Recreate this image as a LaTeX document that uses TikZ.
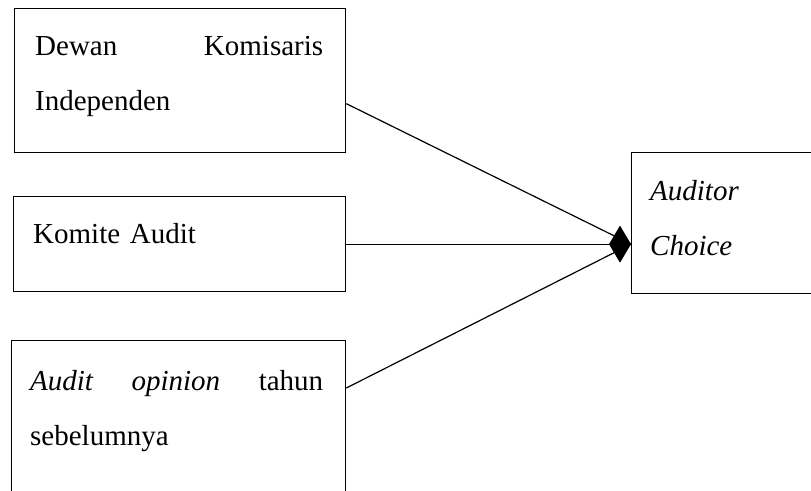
\documentclass[tikz,border=0pt]{standalone}
\usepackage{fontspec}
\setmainfont{Liberation Serif}
\usetikzlibrary{arrows.meta, positioning}
\hyphenpenalty=10000
\tolerance=10000

\tikzset{
  kotak/.style={draw, line width=1.3pt, rectangle, inner sep=0pt, anchor=north west},
  isi/.style={anchor=base west, inner sep=0pt, align=justify,
    font=\fontsize{29}{55}\selectfont},
  panah/.style={line width=1.2pt},
}

\begin{document}
\begin{tikzpicture}[x=1pt, y=-1pt]
  \useasboundingbox (0,0) rectangle (811,490);

  % kotak variabel independen
  \node[kotak, minimum width=331pt, minimum height=144pt] (dewan) at (14,8) {};
  \node[kotak, minimum width=332pt, minimum height=95pt] (komite) at (13,196) {};
  \node[kotak, minimum width=334pt, minimum height=170pt] (audit) at (11,340) {};
  % kotak variabel dependen
  \node[kotak, minimum width=200pt, minimum height=141pt] (choice) at (631,152) {};

  % teks
  \node[isi, text width=288pt] (dewantxt) at (35,55) {Dewan Komisaris Independen};
  \node[isi, text width=290pt, align=left] (komitetxt) at (33,243) {Komite Audit};
  \node[isi, text width=293pt] (audittxt) at (30,390) {\textit{Audit opinion} tahun sebelumnya};
  \node[isi, text width=130pt, align=left] (choicetxt) at (650,200) {\textit{Auditor}\\\textit{Choice}};

  % panah
  \coordinate (tip) at (choice.west |- komite.east);
  \draw[panah] ([yshift=-23pt]dewan.east) -- (tip);
  \draw[panah] ([yshift=-48pt]audit.north east) -- (tip);
  \draw[panah, -{Diamond[length=22pt, width=37pt]}] (komite.east) -- (tip);
\end{tikzpicture}
\end{document}
